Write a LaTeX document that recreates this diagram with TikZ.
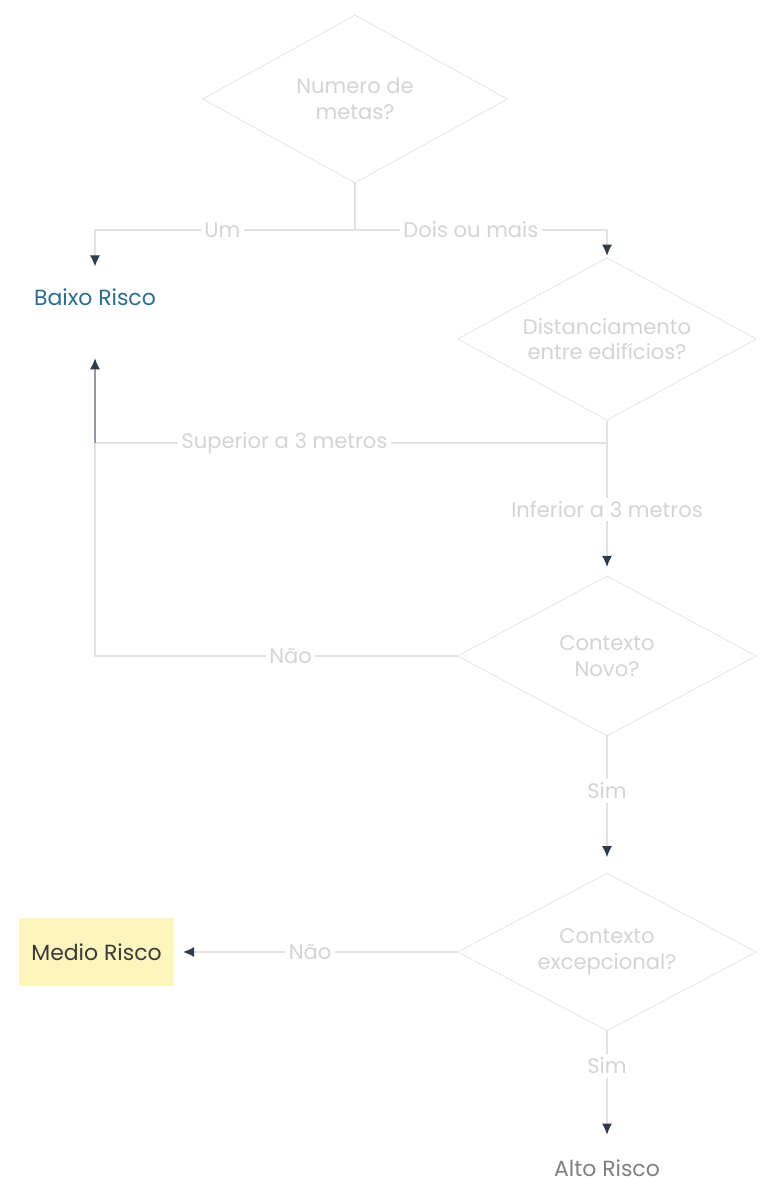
\documentclass[tikz,border=0pt]{standalone}
\usepackage{fontspec}
\setmainfont{Poppins}
\usetikzlibrary{arrows.meta,positioning,calc,shapes.geometric}
\definecolor{lineg}{HTML}{E2E2E2}
\definecolor{txtg}{HTML}{D4D4D4}
\definecolor{tipc}{HTML}{2E3B48}
\definecolor{upc}{HTML}{8E9CA8}
\definecolor{lowc}{HTML}{2F6D8C}
\definecolor{midc}{HTML}{3A3A3A}
\definecolor{midfill}{HTML}{FCF5BE}
\definecolor{altoc}{HTML}{808080}
\newcommand{\flowfont}{\fontsize{12}{14.5}\selectfont}

\begin{document}
\begin{tikzpicture}[
  dec/.style={draw=lineg, diamond, aspect=1.85, minimum width=5.98cm, minimum height=3.25cm,
              inner sep=0pt, align=center, font=\flowfont, text=txtg},
  res/.style={rectangle, inner sep=2pt, align=center, font=\fontsize{12.5}{15}\selectfont},
  lnk/.style={-{Latex[length=2.2mm,width=2mm,color=tipc]}, draw=lineg, semithick, shorten >=3pt},
  ln/.style={draw=lineg, semithick},
  lbl/.style={fill=white, inner sep=2pt, font=\flowfont, text=txtg},
]
\useasboundingbox (0,0) rectangle (15.18,23.74);
\fill[white] (0,0) rectangle (15.18,23.74);

% decisions
\node[dec, minimum width=6.1cm, minimum height=3.36cm] (q1) at (7.10,21.76) {Numero de\\metas?};
\node[dec] (q2) at (12.14,16.96) {Distanciamento\\entre edifícios?};
\node[dec, minimum height=3.2cm] (q3) at (12.14,10.62) {Contexto\\Novo?};
\node[dec, minimum height=3.15cm] (q4) at (12.14,4.70) {Contexto\\excepcional?};

% results
\node[res, text=lowc, minimum height=1cm] (baixo) at (1.90,17.80) {Baixo Risco};
\node[res, fill=midfill, text=midc, minimum width=3.1cm, minimum height=1.35cm] (medio) at (1.93,4.70) {Medio Risco};
\node[res, text=altoc] (alto) at (12.14,0.38) {Alto Risco};

% junctions
\coordinate (s1) at (7.10,19.14);
\coordinate (s1l) at (1.90,19.14);
\coordinate (s1r) at (12.14,19.14);
\coordinate (s2) at (12.14,14.88);
\coordinate (s2l) at (1.90,14.88);
\coordinate (c3) at (1.90,10.62);

\draw[ln] (q1.south) -- (s1);
\draw[lnk] (s1) -- node[lbl, pos=0.51] {Um} (s1l) -- (baixo.north);
\draw[lnk, shorten >=1pt] (s1) -- node[lbl, pos=0.46] {Dois ou mais} (s1r) -- (q2.north);

\draw[ln] (q2.south) -- (s2);
\draw[ln] (s2) -- node[lbl, pos=0.63] {Superior a 3 metros} (s2l);
\draw[lnk, draw=upc, shorten >=0.72cm] (s2l) -- (baixo.south);
\draw[lnk, shorten >=5pt] (s2) -- node[lbl, pos=0.5] {Inferior a 3 metros} (q3.north);

\draw[ln] (q3.west) -- node[lbl, pos=0.46] {Não} (c3) -- (s2l);
\draw[lnk, shorten >=9pt] (q3.south) -- node[lbl, pos=0.4] {Sim} (q4.north);

\draw[lnk, shorten >=5pt] (q4.west) -- node[lbl, pos=0.52] {Não} (medio.east);
\draw[lnk, shorten >=12pt] (q4.south) -- node[lbl, pos=0.28] {Sim} (alto.north);
\end{tikzpicture}
\end{document}
